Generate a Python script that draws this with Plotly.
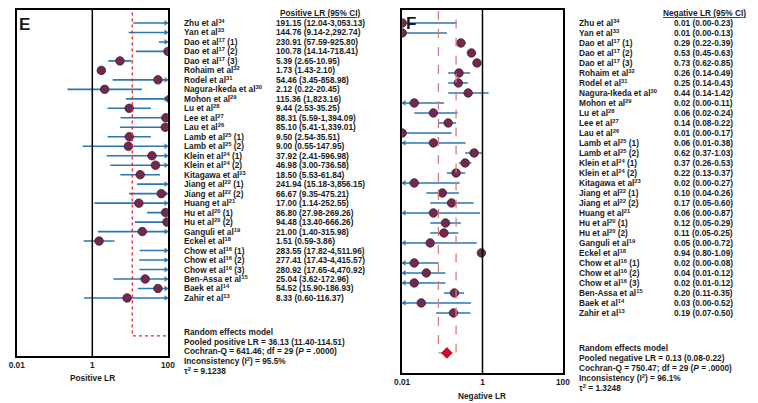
import numpy as np
import plotly.graph_objects as go

# study labels (name, reference number, sub-study)
study_names = ["Zhu et al", "Yan et al", "Dao et al", "Dao et al", "Dao et al", "Rohaim et al",
               "Rodel et al", "Nagura-Ikeda et al", "Mohon et al", "Lu et al", "Lee et al",
               "Lau et al", "Lamb et al", "Lamb et al", "Klein et al", "Klein et al",
               "Kitagawa et al", "Jiang et al", "Jiang et al", "Huang et al", "Hu et al",
               "Hu et al", "Ganguli et al", "Eckel et al", "Chow et al", "Chow et al",
               "Chow et al", "Ben-Assa et al", "Baek et al", "Zahir et al"]
study_refs = [34, 33, 17, 17, 17, 32, 31, 30, 29, 28, 27, 26, 25, 25, 24, 24, 23, 22, 22, 21,
              20, 20, 19, 18, 16, 16, 16, 15, 14, 13]
study_sub = ["", "", "(1)", "(2)", "(3)", "", "", "", "", "", "", "", "(1)", "(2)", "(1)", "(2)",
             "", "(1)", "(2)", "", "(1)", "(2)", "", "", "(1)", "(2)", "(3)", "", "", ""]

# positive likelihood ratio
pos_lr = [191.15, 144.76, 230.91, 100.78, 5.39, 1.73, 54.46, 2.12, 115.36, 9.44, 88.31, 85.10,
          9.50, 9.00, 37.92, 46.98, 18.50, 241.94, 66.67, 17.00, 86.80, 94.48, 21.00, 1.51,
          283.55, 277.41, 280.92, 25.04, 54.52, 8.33]
pos_lo = [12.04, 9.14, 57.59, 14.14, 2.65, 1.43, 3.45, 0.22, 7.80, 2.53, 5.59, 5.41, 2.54, 0.55,
          2.41, 3.00, 5.53, 15.18, 9.35, 1.14, 27.98, 13.40, 1.40, 0.59, 17.82, 17.43, 17.65,
          3.62, 15.90, 0.60]
pos_hi = [3053.13, 2292.74, 925.80, 718.41, 10.95, 2.10, 858.98, 20.45, 1823.16, 35.25, 1394.09,
          1339.01, 35.51, 147.95, 596.98, 736.58, 61.84, 3856.15, 475.21, 252.55, 269.26, 666.26,
          315.98, 3.86, 4511.96, 4415.57, 4470.92, 172.96, 186.93, 116.37]
pos_text_fix = {8: "115.36 (1,823.16)"}  # as printed in the source table

# negative likelihood ratio
neg_lr = [0.01, 0.01, 0.29, 0.53, 0.73, 0.26, 0.25, 0.44, 0.02, 0.06, 0.14, 0.01, 0.06, 0.62,
          0.37, 0.22, 0.02, 0.10, 0.17, 0.06, 0.12, 0.11, 0.05, 0.94, 0.02, 0.04, 0.02, 0.20,
          0.03, 0.19]
neg_lo = [0.00, 0.00, 0.22, 0.45, 0.62, 0.14, 0.14, 0.14, 0.00, 0.02, 0.08, 0.00, 0.01, 0.37,
          0.26, 0.13, 0.00, 0.04, 0.05, 0.00, 0.05, 0.05, 0.00, 0.80, 0.00, 0.01, 0.01, 0.11,
          0.00, 0.07]
neg_hi = [0.23, 0.13, 0.39, 0.63, 0.85, 0.49, 0.43, 1.42, 0.11, 0.24, 0.22, 0.17, 0.38, 1.03,
          0.53, 0.37, 0.27, 0.26, 0.60, 0.87, 0.29, 0.25, 0.72, 1.09, 0.08, 0.12, 0.12, 0.35,
          0.52, 0.50]

# pooled (random effects)
pos_pooled = [36.13, 11.40, 114.51]
neg_pooled = [0.13, 0.08, 0.22]
pos_summary = ["Random effects model",
               "Pooled positive LR = 36.13 (11.40-114.51)",
               "Cochran-Q = 641.46; df = 29 (<i>P</i> = .0000)",
               "Inconsistency (I<sup>2</sup>) = 95.5%",
               "τ<sup>2</sup> = 9.1238"]
neg_summary = ["Random effects model",
               "Pooled negative LR = 0.13 (0.08-0.22)",
               "Cochran-Q = 750.47; df = 29 (<i>P</i> = .0000)",
               "Inconsistency (I<sup>2</sup>) = 96.1%",
               "τ<sup>2</sup> = 1.3248"]
tick_vals = [0.01, 1, 100]
tick_text = ["0.01", "1", "100"]

# the page body keeps its default 8px margin, so positions below are window
# pixels and get shifted into figure space
OFF = 8
W, H = 758 - OFF, 403 - OFF
FONT = "Liberation Sans"
FS = 8.3
TXT = "#1b1b1b"
BLUE = "#2a77b3"
DOT = "#74294b"
rows = list(range(len(study_names)))
pooled_row = 33
XMIN, XMAX = 0.01, 100


def px(x):
    return max(x - OFF, 0) / W


def py(y):
    return 1 - max(y - OFF, 0.75) / H


def row_range(top_px, bottom_px, first_px, step):
    # reversed category range so row r sits at first_px + step * r
    return [(bottom_px - first_px) / step, (top_px - first_px) / step]


def fmt(v):
    return f"{v:,.2f}"


labels = [f"{n}<sup>{r}</sup> {s}".strip() for n, r, s in zip(study_names, study_refs, study_sub)]
pos_text = [f"{fmt(v)} ({fmt(a)}-{fmt(b)})" for v, a, b in zip(pos_lr, pos_lo, pos_hi)]
for k, t in pos_text_fix.items():
    pos_text[k] = t
neg_text = [f"{fmt(v)} ({fmt(a)}-{fmt(b)})" for v, a, b in zip(neg_lr, neg_lo, neg_hi)]

fig = go.Figure()


def add_panel(xa, ya, lr, lo, hi, pooled, dash_col, dash_style, right_side):
    xs, ys = [], []
    for r, a, b in zip(rows, lo, hi):
        xs += [max(a, XMIN / 10), b, None]
        ys += [r, r, None]
    fig.add_trace(go.Scatter(x=xs, y=ys, mode="lines", line=dict(color=BLUE, width=1.6),
                             xaxis=xa, yaxis=ya, showlegend=False, hoverinfo="skip"))
    # arrows where the interval runs past the axis
    ar_x, ar_y = [], []
    for r, a, b in zip(rows, lo, hi):
        if right_side and b > XMAX:
            ar_x.append(XMAX * 0.88); ar_y.append(r)
        if not right_side and a <= XMIN:
            ar_x.append(XMIN * 1.13); ar_y.append(r)
    fig.add_trace(go.Scatter(x=ar_x, y=ar_y, mode="markers",
                             marker=dict(symbol="triangle-right" if right_side else "triangle-left",
                                         size=5, color=BLUE),
                             xaxis=xa, yaxis=ya, showlegend=False, hoverinfo="skip"))
    fig.add_trace(go.Scatter(x=lr, y=rows, mode="markers",
                             marker=dict(size=8.5, color=DOT, line=dict(color="#3a2040", width=0.8)),
                             xaxis=xa, yaxis=ya, showlegend=False))
    # pooled estimate: dashed bounds
    est, plo, phi = pooled
    fig.add_trace(go.Scatter(x=[plo, plo, phi, phi], y=[-3, pooled_row, pooled_row, -3], mode="lines",
                             line=dict(color=dash_col, width=1.3, dash=dash_style),
                             xaxis=xa, yaxis=ya, showlegend=False, hoverinfo="skip"))
    if not right_side:
        fig.add_trace(go.Scatter(x=[est], y=[pooled_row], mode="markers",
                                 marker=dict(symbol="diamond", size=9, color="#c8102e"),
                                 xaxis=xa, yaxis=ya, showlegend=False))
    # vertical line at LR = 1
    fig.add_trace(go.Scatter(x=[1, 1], y=[-3, 40], mode="lines", line=dict(color="black", width=1.5),
                             xaxis=xa, yaxis=ya, showlegend=False, hoverinfo="skip"))


add_panel("x", "y", pos_lr, pos_lo, pos_hi, pos_pooled, "#e0262c", "dot", True)
add_panel("x2", "y2", neg_lr, neg_lo, neg_hi, neg_pooled, "#dd7a7a", "dash", False)

axis_x = dict(type="log", range=[np.log10(XMIN), np.log10(XMAX)], tickvals=tick_vals,
              ticktext=tick_text, ticks="", showgrid=False, zeroline=False, showline=True,
              mirror=True, linecolor="black", linewidth=1.5,
              tickfont=dict(family=FONT, size=FS, color=TXT, weight="bold"))
axis_y = dict(showgrid=False, zeroline=False, showticklabels=False, showline=True, mirror=True,
              linecolor="black", linewidth=1.5, ticks="")

top = OFF + 0.75  # box top as high as the page allows
first_row = 22  # header needs room above the first study
step_l = (297.7 - first_row) / 29
step_r = (312.7 - first_row) / 29
fig.update_layout(
    width=W, height=H, margin=dict(l=0, r=0, t=0, b=0),
    paper_bgcolor="white", plot_bgcolor="white",
    xaxis=dict(axis_x, domain=[px(8.75), px(163)], anchor="y"),
    yaxis=dict(axis_y, domain=[py(356), py(top)], range=row_range(top, 356, first_row, step_l),
               anchor="x"),
    xaxis2=dict(axis_x, domain=[px(402), px(566)], anchor="y2"),
    yaxis2=dict(axis_y, domain=[py(373), py(top)], range=row_range(top, 373, first_row, step_r),
                anchor="x2"),
)

ann = []


def txt(x, y, s, yref="paper", size=FS, xanchor="left", **kw):
    ann.append(dict(x=x, y=y, xref="paper", yref=yref, text=s, showarrow=False, xanchor=xanchor,
                    yanchor="middle", font=dict(family=FONT, size=size, color=TXT, weight="bold", **kw)))


# table columns
for r in rows:
    txt(px(177), r, labels[r], yref="y")
    txt(px(271), r, pos_text[r], yref="y")
    txt(px(580), r, labels[r], yref="y2")
    txt(px(677), r, neg_text[r], yref="y2")

txt(px(275), py(12), "Positive LR (95% CI)", lineposition="under")
txt(px(666), py(12), "Negative LR (95% CI)", lineposition="under")

for i, s in enumerate(pos_summary):
    txt(px(177), py(331.7 + 9.68 * i), s)
for i, s in enumerate(neg_summary):
    txt(px(580), py(348.3 + 10.0 * i), s)

txt(px(86), py(378), "Positive LR", xanchor="center")
txt(px(484), py(396), "Negative LR", xanchor="center")
txt(px(17), py(24), "E", size=17, xanchor="center")
txt(px(411), py(23), "F", size=17, xanchor="center")

fig.update_layout(annotations=ann)
fig.write_html("out.html")
